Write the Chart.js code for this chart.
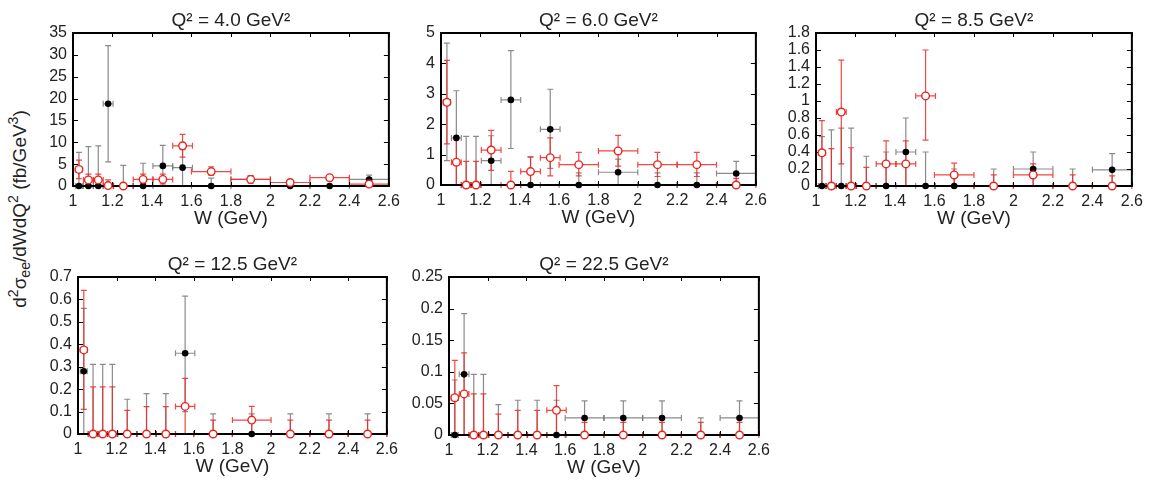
<!DOCTYPE html>
<html>
<head>
<meta charset="utf-8">
<script src="https://cdn.jsdelivr.net/npm/chart.js@4.4.1/dist/chart.umd.min.js"></script>
<style>
  body { margin: 0; width: 1156px; height: 482px; background: #fff; position: relative; overflow: hidden;
         font-family: "Liberation Sans", Arial, Helvetica, sans-serif; }
  .panel { position: absolute; }
  #ylab { position: absolute; left: 19px; top: 209px; transform: translate(-50%, -50%) rotate(-90deg);
          white-space: nowrap; font-size: 19px; color: #222; line-height: 1; }
  #ylab sup, #ylab sub { font-size: 14px; line-height: 0; }
</style>
</head>
<body>
<div id="ylab">d<sup>2</sup>σ<sub>ee</sub>/dWdQ<sup>2</sup> (fb/GeV<sup>3</sup>)</div>

<script>
'use strict';

// W bins (GeV) shared by every panel
let wCenter = [1.03, 1.078, 1.128, 1.178, 1.255, 1.355, 1.455, 1.555, 1.70, 1.90, 2.10, 2.30, 2.50];
let wHalf   = [0.018, 0.025, 0.025, 0.025, 0.05, 0.05, 0.05, 0.05, 0.1, 0.1, 0.1, 0.1, 0.1];

let q2Labels = ['4.0', '6.0', '8.5', '12.5', '22.5'];
let yMax  = [35, 5, 1.8, 0.7, 0.25];
let yStep = [5, 1, 0.2, 0.1, 0.05];

// black filled points (one row per Q2 panel)
let blackVal = [
  [0, 0, 0, 18.8, 0, 0, 4.6, 4.2, 0, 1.5, 0, 0, 1.5],
  [2.72, 1.55, 0, 0, 0.8, 2.8, 0, 1.83, 0, 0.42, 0, 0, 0.38],
  [0, 0, 0, 0, 0, 0, 0.4, 0, 0, 0, 0.2, 0, 0.19],
  [0.28, 0, 0, 0, 0, 0, 0, 0.36, 0, 0, 0, 0, 0],
  [0, 0.096, 0, 0, 0, 0, 0, 0, 0.027, 0.027, 0.027, 0, 0.027]
];
let blackHi = [
  [7.7, 9.0, 9.2, 32.1, 4.7, 5.2, 9.3, 8.3, 1.8, 2.4, 0, 0, 2.5],
  [4.67, 3.1, 1.6, 1.6, 1.62, 4.42, 0.93, 3.15, 0.4, 0.85, 0.4, 0.4, 0.78],
  [0.58, 0.66, 0.68, 0.68, 0.35, 0.4, 0.8, 0.4, 0.2, 0.2, 0.4, 0.2, 0.38],
  [0.56, 0.31, 0.31, 0.31, 0.155, 0.18, 0.18, 0.615, 0.09, 0.09, 0.09, 0.09, 0.09],
  [0.087, 0.192, 0.096, 0.096, 0.048, 0.055, 0.055, 0.055, 0.054, 0.054, 0.054, 0.027, 0.054]
];
let blackLo = [
  [0, 0, 0, 5.5, 0, 0, 0, 0, 0, 0.6, 0, 0, 0.5],
  [0.8, 0, 0, 0, 0, 1.2, 0, 0.55, 0, 0, 0, 0, 0],
  [0, 0, 0, 0, 0, 0, 0, 0, 0, 0, 0, 0, 0],
  [0, 0, 0, 0, 0, 0, 0, 0.1, 0, 0, 0, 0, 0],
  [0, 0, 0, 0, 0, 0, 0, 0, 0, 0, 0, 0, 0]
];

// red open points
let redVal = [
  [3.8, 1.4, 1.4, 0.1, 0, 1.5, 1.5, 9.2, 3.3, 1.5, 0.8, 1.9, 0.45],
  [2.72, 0.75, 0, 0, 1.15, 0, 0.44, 0.9, 0.67, 1.12, 0.67, 0.67, 0],
  [0.39, 0, 0.87, 0, 0, 0.26, 0.26, 1.06, 0.13, 0, 0.13, 0, 0],
  [0.375, 0, 0, 0, 0, 0, 0, 0.123, 0, 0.062, 0, 0, 0],
  [0.059, 0.065, 0, 0, 0, 0, 0, 0.039, 0, 0, 0, 0, 0]
];
let redHi = [
  [5.9, 2.7, 2.7, 1.4, 0, 2.7, 2.7, 11.8, 4.4, 2.3, 1.0, 2.2, 0.8],
  [4.1, 1.55, 0.78, 0.78, 1.8, 0.45, 0.92, 1.55, 1.07, 1.63, 1.07, 1.07, 0.22],
  [0.77, 0.44, 1.48, 0.45, 0.22, 0.53, 0.53, 1.6, 0.27, 0.13, 0.26, 0.13, 0.12],
  [0.64, 0.21, 0.21, 0.21, 0.105, 0.122, 0.122, 0.248, 0.062, 0.123, 0.062, 0.062, 0.062],
  [0.118, 0.13, 0.065, 0.065, 0.033, 0.039, 0.039, 0.078, 0.02, 0.02, 0.02, 0.02, 0.02]
];
let redLo = [
  [1.7, 0.4, 0.4, 0, 0, 0.6, 0.5, 6.6, 2.5, 1.0, 0.6, 1.6, 0.2],
  [1.35, 0, 0, 0, 0.48, 0, 0, 0.3, 0.3, 0.62, 0.28, 0.28, 0],
  [0, 0, 0.26, 0, 0, 0, 0, 0.54, 0, 0, 0, 0, 0],
  [0.11, 0, 0, 0, 0, 0, 0, 0, 0, 0, 0, 0, 0],
  [0, 0, 0, 0, 0, 0, 0, 0, 0, 0, 0, 0, 0]
];

// plot rectangles [left, top, right, bottom] in page pixels
let plotBoxes = [
  [73, 33, 390, 186],
  [441, 33, 757, 185],
  [816, 33, 1133, 186],
  [78, 277, 388, 434],
  [449, 277, 760, 435]
];

let yAxisW = 48;
let xAxisH = 48;
let titleH = 33;
let padRight = 16;
let fontFamily = '"Liberation Sans", Arial, Helvetica, sans-serif';

function makePoints(vals, lo, hi){
  return wCenter.map(function(w, i){
    return { x: w, y: vals[i], lo: lo[i], hi: hi[i], dx: wHalf[i] };
  });
}

function plainNumber(v){
  return String(Math.round(v * 1000) / 1000);
}

// frame, inward ticks and xy error bars, all placed through the chart scales
let framePlugin = {
  id: 'frameAndErrors',
  beforeDatasetsDraw(chart){
    let ctx = chart.ctx;
    let a = chart.chartArea;
    let xs = chart.scales.x;
    let ys = chart.scales.y;

    // error bars, black series first then red on top
    let order = chart.data.datasets.slice().sort(function(p, q){ return q.order - p.order; });
    order.forEach(function(ds){
      ctx.save();
      ctx.strokeStyle = ds.errColor;
      ctx.lineWidth = 1.2;
      ds.data.forEach(function(p){
        let px = xs.getPixelForValue(p.x);
        let py = ys.getPixelForValue(p.y);
        let x0 = xs.getPixelForValue(p.x - p.dx);
        let x1 = xs.getPixelForValue(p.x + p.dx);
        ctx.beginPath();
        if (p.hi > p.lo) {
          let yh = ys.getPixelForValue(p.hi);
          let yl = ys.getPixelForValue(p.lo);
          ctx.moveTo(px, yl); ctx.lineTo(px, yh);
          ctx.moveTo(px - 3, yh); ctx.lineTo(px + 3, yh);
          ctx.moveTo(px - 3, yl); ctx.lineTo(px + 3, yl);
        }
        ctx.moveTo(x0, py); ctx.lineTo(x1, py);
        ctx.moveTo(x0, py - 3); ctx.lineTo(x0, py + 3);
        ctx.moveTo(x1, py - 3); ctx.lineTo(x1, py + 3);
        ctx.stroke();
      });
      ctx.restore();
    });

    ctx.save();
    // inward ticks on all four sides
    ctx.strokeStyle = '#000';
    ctx.lineWidth = 1;
    ctx.beginPath();
    xs.ticks.forEach(function(t){
      let px = Math.round(xs.getPixelForValue(t.value)) + 0.5;
      ctx.moveTo(px, a.bottom); ctx.lineTo(px, a.bottom - 4);
      ctx.moveTo(px, a.top); ctx.lineTo(px, a.top + 4);
    });
    ys.ticks.forEach(function(t){
      let py = Math.round(ys.getPixelForValue(t.value)) + 0.5;
      ctx.moveTo(a.left, py); ctx.lineTo(a.left + 5, py);
      ctx.moveTo(a.right, py); ctx.lineTo(a.right - 5, py);
    });
    ctx.stroke();
    // frame
    ctx.lineWidth = 2;
    ctx.strokeRect(a.left, a.top, a.right - a.left, a.bottom - a.top);
    ctx.restore();
  }
};

function buildPanel(k){
  let box = plotBoxes[k];
  let div = document.createElement('div');
  div.className = 'panel';
  div.style.left = (box[0] - yAxisW) + 'px';
  div.style.top = (box[1] - titleH) + 'px';
  div.style.width = (yAxisW + box[2] - box[0] + padRight) + 'px';
  div.style.height = (titleH + box[3] - box[1] + xAxisH) + 'px';
  let canvas = document.createElement('canvas');
  div.appendChild(canvas);
  document.body.appendChild(div);

  new Chart(canvas.getContext('2d'), {
    type: 'scatter',
    data: {
      datasets: [{
        label: 'red',
        data: makePoints(redVal[k], redLo[k], redHi[k]),
        order: 1,
        clip: false,
        pointRadius: 3.8,
        pointHoverRadius: 3.8,
        pointBackgroundColor: '#fff',
        pointBorderColor: '#e8261f',
        pointBorderWidth: 1.4,
        errColor: 'rgba(236, 40, 36, 0.85)'
      }, {
        label: 'black',
        data: makePoints(blackVal[k], blackLo[k], blackHi[k]),
        order: 2,
        clip: false,
        pointRadius: 3.3,
        pointHoverRadius: 3.3,
        pointBackgroundColor: '#000',
        pointBorderColor: '#000',
        pointBorderWidth: 0,
        errColor: 'rgba(110, 110, 110, 0.8)'
      }]
    },
    options: {
      responsive: true,
      maintainAspectRatio: false,
      animation: false,
      events: [],
      layout: { padding: { left: 0, right: padRight, top: 0, bottom: 0 } },
      plugins: {
        legend: { display: false },
        tooltip: { enabled: false },
        title: {
          display: true,
          fullSize: false,
          text: 'Q² = ' + q2Labels[k] + ' GeV²',
          color: '#222',
          font: { family: fontFamily, size: 19, weight: 'normal' },
          padding: { top: 9, bottom: 33 - 9 - 19 * 1.2 }
        }
      },
      scales: {
        x: {
          type: 'linear',
          min: 1,
          max: 2.6,
          grid: { display: false, drawTicks: false },
          border: { display: false },
          ticks: {
            stepSize: 0.2,
            autoSkip: false,
            maxRotation: 0,
            padding: 6,
            color: '#222',
            font: { family: fontFamily, size: 16 },
            callback: plainNumber
          },
          title: {
            display: true,
            text: 'W (GeV)',
            color: '#222',
            font: { family: fontFamily, size: 19 },
            padding: { top: 0, bottom: 4 }
          },
          afterFit: function(s){ s.height = xAxisH; }
        },
        y: {
          min: 0,
          max: yMax[k],
          grid: { display: false, drawTicks: false },
          border: { display: false },
          ticks: {
            stepSize: yStep[k],
            autoSkip: false,
            padding: 6,
            color: '#222',
            font: { family: fontFamily, size: 16 },
            callback: plainNumber
          },
          afterFit: function(s){ s.width = yAxisW; }
        }
      }
    },
    plugins: [framePlugin]
  });
}

for (let k = 0; k < q2Labels.length; k++){
  buildPanel(k);
}
</script>
</body>
</html>
